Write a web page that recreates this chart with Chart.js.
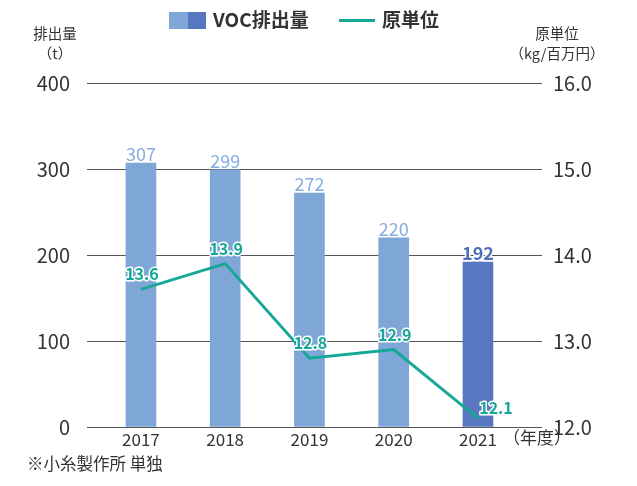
<!DOCTYPE html>
<html>
<head>
<meta charset="utf-8">
<script src="https://cdn.jsdelivr.net/npm/chart.js"></script>
<style>
  body { margin: 0; background: #fff; font-family: "Noto Sans CJK JP", "Noto Sans", sans-serif; color: #333; }
  #wrap { position: relative; width: 637px; height: 486px; }
  #wrap canvas { position: absolute; left: 0; top: 0; }
  .t { position: absolute; white-space: nowrap; line-height: 1; }
</style>
</head>
<body>
<div id="wrap">
  <canvas id="chartCanvas" width="637" height="486"></canvas>
  <!-- legend -->
  <div class="t" style="left:169px;top:12px;width:19px;height:17px;background:#7ea7d8"></div>
  <div class="t" style="left:188px;top:12px;width:18px;height:17px;background:#5778c0"></div>
  <div class="t" style="left:213px;top:9px;font-size:19px;font-weight:bold;">VOC排出量</div>
  <div class="t" style="left:339px;top:19px;width:36px;height:3px;background:#17a796"></div>
  <div class="t" style="left:382px;top:9px;font-size:19px;font-weight:bold;">原単位</div>
  <!-- axis titles -->
  <div class="t" style="left:55px;top:26px;font-size:14.5px;transform:translateX(-50%);">排出量</div>
  <div class="t" style="left:55px;top:46px;font-size:14.5px;transform:translateX(-50%);">（t）</div>
  <div class="t" style="left:557px;top:26px;font-size:14.5px;transform:translateX(-50%);">原単位</div>
  <div class="t" style="left:557px;top:46px;font-size:14.5px;transform:translateX(-50%);">（kg/百万円）</div>
  <div class="t" style="left:503px;top:428px;font-size:17px;">（年度）</div>
  <div class="t" style="left:27px;top:455px;font-size:16.5px;">※小糸製作所 単独</div>
</div>
<script>
// data
const years = ['2017', '2018', '2019', '2020', '2021'];
const vocEmissions = [307, 299, 272, 220, 192];
const unitValues = [13.6, 13.9, 12.8, 12.9, 12.1];
const leftTicks = [0, 100, 200, 300, 400];
const rightTicks = [12, 13, 14, 15, 16];

const barColors = ['#7ea7d8', '#7ea7d8', '#7ea7d8', '#7ea7d8', '#5778c0'];
const labelColors = ['#86ace0', '#86ace0', '#86ace0', '#86ace0', '#4f6fb8'];
const teal = '#17a796';
const FONT = '"Noto Sans CJK JP", "Noto Sans", sans-serif';

// value labels on bars and line points
const valueLabels = {
  id: 'valueLabels',
  afterDatasetsDraw(chart) {
    const ctx = chart.ctx;
    ctx.save();
    ctx.textAlign = 'center';
    ctx.lineJoin = 'round';

    const bars = chart.getDatasetMeta(0).data;
    bars.forEach((bar, i) => {
      ctx.font = (i === 4 ? 'bold ' : '') + '18px ' + FONT;
      ctx.textBaseline = 'alphabetic';
      ctx.lineWidth = 3;
      ctx.strokeStyle = '#fff';
      if (i === 4) ctx.strokeText(vocEmissions[i], bar.x, bar.y - 2);
      ctx.fillStyle = labelColors[i];
      ctx.fillText(vocEmissions[i], bar.x, bar.y - 2);
    });

    const pts = chart.getDatasetMeta(1).data;
    ctx.font = 'bold 16px ' + FONT;
    ctx.textBaseline = 'middle';
    pts.forEach((p, i) => {
      const last = i === pts.length - 1;
      const x = last ? p.x + 18 : p.x + 1;
      const y = last ? p.y - 10 : p.y - 15;
      const txt = unitValues[i].toFixed(1);
      ctx.lineWidth = 3;
      ctx.strokeStyle = '#fff';
      ctx.strokeText(txt, x, y);
      ctx.fillStyle = teal;
      ctx.fillText(txt, x, y);
    });
    ctx.restore();
  }
};

const chart = new Chart(document.getElementById('chartCanvas'), {
  type: 'bar',
  data: {
    datasets: [{
      type: 'bar',
      label: 'VOC排出量',
      data: vocEmissions.map((v, i) => ({ x: i, y: v })),
      backgroundColor: barColors,
      borderWidth: 0,
      barThickness: 30,
      yAxisID: 'y',
      order: 2
    }, {
      type: 'line',
      label: '原単位',
      data: unitValues.map((v, i) => ({ x: i, y: v })),
      borderColor: teal,
      borderWidth: 3,
      pointRadius: 0,
      tension: 0,
      yAxisID: 'y2',
      order: 1
    }]
  },
  options: {
    responsive: false,
    animation: false,
    layout: { padding: { top: 83, right: 0, left: 0, bottom: 0 } },
    plugins: { legend: { display: false }, tooltip: { enabled: false } },
    scales: {
      x: {
        type: 'linear',
        offset: false,
        min: -0.64,
        max: 4.76,
        afterBuildTicks: (s) => { s.ticks = years.map((_, i) => ({ value: i })); },
        afterFit: (s) => { s.height = 59; },
        grid: { display: false, offset: false },
        border: { display: false },
        ticks: {
          callback: (v) => years[v],
          color: '#333',
          font: { family: FONT, size: 17 },
          padding: -6,
          maxRotation: 0,
          autoSkip: false
        }
      },
      y: {
        position: 'left',
        min: 0,
        max: 400,
        afterBuildTicks: (s) => { s.ticks = leftTicks.map(v => ({ value: v })); },
        afterFit: (s) => { s.width = 87; },
        grid: { color: '#555', lineWidth: 1, drawTicks: false },
        border: { display: false },
        ticks: { color: '#333', font: { family: FONT, size: 20 }, padding: 17 }
      },
      y2: {
        position: 'right',
        min: 12,
        max: 16,
        afterBuildTicks: (s) => { s.ticks = rightTicks.map(v => ({ value: v })); },
        afterFit: (s) => { s.width = 95; },
        grid: { display: false, drawTicks: false },
        border: { display: false },
        ticks: {
          color: '#333',
          font: { family: FONT, size: 20 },
          padding: 11,
          callback: (v) => v.toFixed(1)
        }
      }
    }
  },
  plugins: [valueLabels]
});
</script>
</body>
</html>
